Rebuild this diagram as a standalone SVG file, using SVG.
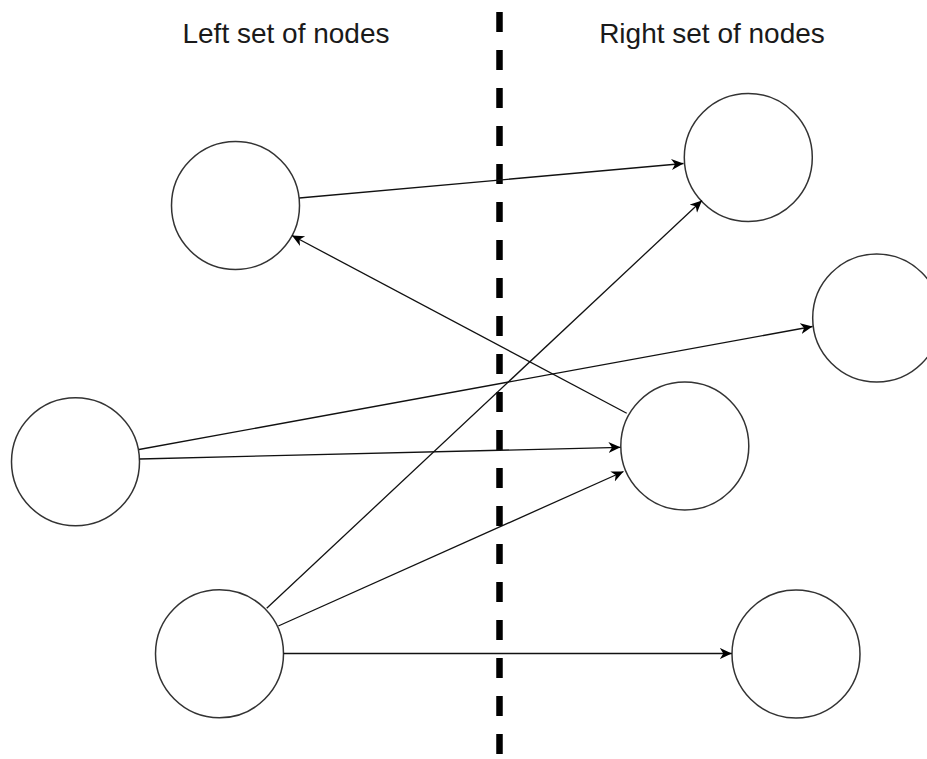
<svg xmlns="http://www.w3.org/2000/svg" width="927" height="759" viewBox="0 0 927 759">
<style>
.node{fill:#fff;stroke:#333;stroke-width:1.5}
.edge{fill:none;stroke:#111;stroke-width:1.3}
.lbl{font-family:"Liberation Sans",Arial,sans-serif;font-size:28px;fill:#1a1a1a;text-anchor:middle}
.divider{stroke:#000;stroke-width:6.5;stroke-dasharray:20 18}
</style>
<defs>
<marker id="arr" markerUnits="userSpaceOnUse" markerWidth="15" markerHeight="12" refX="12" refY="5.5" orient="auto">
<path d="M0,0 L12,5.5 L0,11 L3.5,5.5 z" fill="#000"/>
</marker>
</defs>
<rect width="927" height="759" fill="#fff"/>
<line class="divider" x1="499.5" y1="12" x2="499.5" y2="759"/>
<text class="lbl" x="286" y="43">Left set of nodes</text>
<text class="lbl" x="712" y="43">Right set of nodes</text>
<g id="L1"><circle class="node" cx="235.5" cy="205.5" r="64"/></g>
<g id="L2"><circle class="node" cx="75.5" cy="461.7" r="64"/></g>
<g id="L3"><circle class="node" cx="219.5" cy="653.8" r="64"/></g>
<g id="R1"><circle class="node" cx="748.3" cy="157.5" r="64"/></g>
<g id="R2"><circle class="node" cx="876.7" cy="318" r="64"/></g>
<g id="R3"><circle class="node" cx="684.8" cy="446" r="64"/></g>
<g id="R4"><circle class="node" cx="796" cy="654" r="64"/></g>
<g id="connectors">
<line class="edge" x1="299.3" y1="198" x2="683.5" y2="163.5" marker-end="url(#arr)"/>
<line class="edge" x1="626.7" y1="413.3" x2="292" y2="235.5" marker-end="url(#arr)"/>
<line class="edge" x1="139" y1="449.5" x2="812.5" y2="326.5" marker-end="url(#arr)"/>
<line class="edge" x1="139.5" y1="459" x2="620.5" y2="447.3" marker-end="url(#arr)"/>
<line class="edge" x1="266.7" y1="608.3" x2="702" y2="200.5" marker-end="url(#arr)"/>
<line class="edge" x1="278.3" y1="626" x2="623.5" y2="471.5" marker-end="url(#arr)"/>
<line class="edge" x1="283.5" y1="653.5" x2="731.8" y2="653.5" marker-end="url(#arr)"/>
</g>
</svg>
